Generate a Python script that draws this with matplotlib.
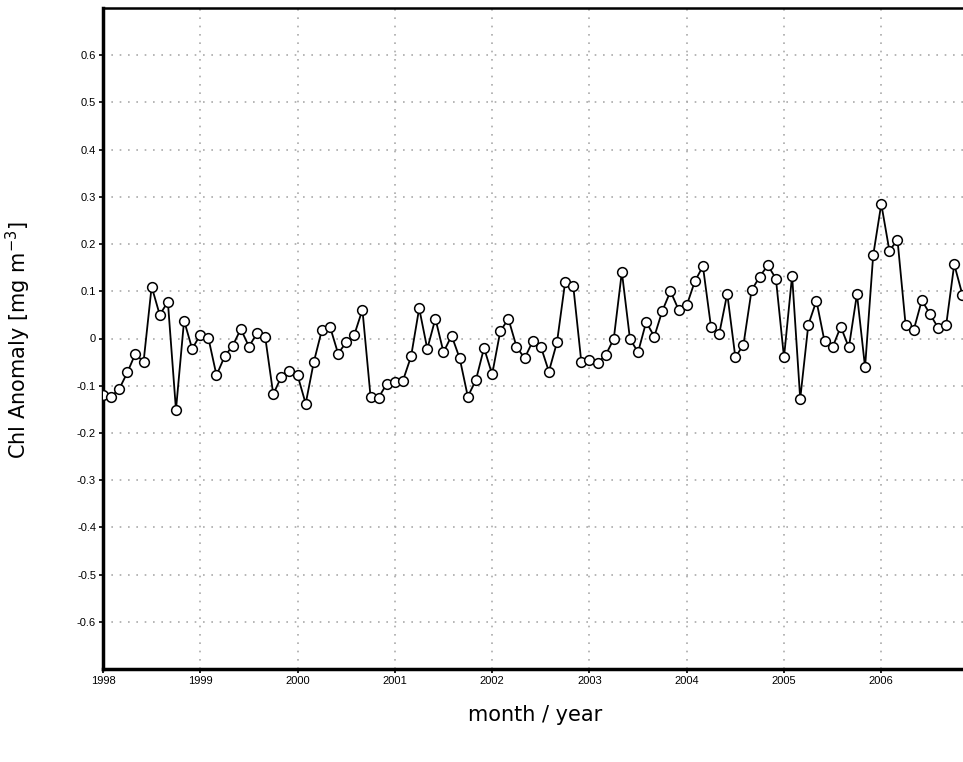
import numpy as np
import matplotlib
matplotlib.use("Agg")
import matplotlib.pyplot as plt

# monthly chlorophyll anomaly, Jan 1998 .. Dec 2006 (mg m-3)
years = [1998, 1999, 2000, 2001, 2002, 2003, 2004, 2005, 2006]
chl_1998 = [-0.120, -0.123, -0.107, -0.072, -0.032, -0.050, 0.110, 0.050, 0.078, -0.151, 0.038, -0.022]
chl_1999 = [0.008, 0.001, -0.078, -0.038, -0.015, 0.020, -0.017, 0.011, 0.004, -0.118, -0.081, -0.068]
chl_2000 = [-0.078, -0.138, -0.050, 0.018, 0.025, -0.032, -0.008, 0.008, 0.061, -0.123, -0.125, -0.096]
chl_2001 = [-0.093, -0.089, -0.038, 0.064, -0.022, 0.042, -0.029, 0.006, -0.042, -0.123, -0.088, -0.020]
chl_2002 = [-0.076, 0.015, 0.042, -0.017, -0.042, -0.006, -0.017, -0.070, -0.008, 0.119, 0.112, -0.050]
chl_2003 = [-0.045, -0.052, -0.035, -0.001, 0.141, -0.001, -0.029, 0.035, 0.004, 0.059, 0.100, 0.061]
chl_2004 = [0.070, 0.121, 0.153, 0.024, 0.009, 0.095, -0.040, -0.013, 0.102, 0.131, 0.155, 0.127]
chl_2005 = [-0.040, 0.133, -0.128, 0.029, 0.080, -0.006, -0.018, 0.025, -0.019, 0.094, -0.061, 0.176]
chl_2006 = [0.285, 0.186, 0.209, 0.029, 0.018, 0.081, 0.052, 0.023, 0.028, 0.157, 0.093, 0.030]

y_ticks = [0.6, 0.5, 0.4, 0.3, 0.2, 0.1, 0, -0.1, -0.2, -0.3, -0.4, -0.5, -0.6]
y_labels = ["0.6", "0.5", "0.4", "0.3", "0.2", "0.1", "0", "-0.1", "-0.2", "-0.3", "-0.4", "-0.5", "-0.6"]

series = [chl_1998, chl_1999, chl_2000, chl_2001, chl_2002, chl_2003, chl_2004, chl_2005, chl_2006]
t = []
v = []
for yr, vals in zip(years, series):
    for m, val in enumerate(vals):
        t.append(yr + m / 12.0)
        v.append(val)

fig = plt.figure(figsize=(9.63, 7.62), dpi=100)
ax = fig.add_axes([103 / 963, 93 / 762, 860 / 963, 661 / 762])

ax.plot(t, v, color="black", lw=1.3, marker="o", ms=7, mfc="white", mec="black", mew=1.1,
        clip_on=True, zorder=3)

ax.set_xlim(1998, 2006.84)
ax.set_ylim(-0.7, 0.7)
ax.set_xticks(years)
ax.set_xticklabels([str(y) for y in years], fontsize=8, family="Liberation Sans")
ax.set_yticks(y_ticks)
ax.set_yticklabels(y_labels, fontsize=8, family="Liberation Sans")
ax.tick_params(direction="out", length=3, width=1.2, pad=2)

ax.grid(True, color="#aaaaaa", linestyle=(0, (1, 4)), lw=1.2)
ax.set_axisbelow(True)

ax.spines["right"].set_visible(False)
ax.spines["left"].set_linewidth(2.5)
ax.spines["bottom"].set_linewidth(2.5)
ax.spines["top"].set_linewidth(1.8)

fig.text(18 / 963, 1 - 340 / 762, "Chl Anomaly [mg m$^{-3}$]", rotation=90,
         ha="center", va="center", fontsize=15)
fig.text(535 / 963, 1 - 715 / 762, "month / year", ha="center", va="center", fontsize=15)

fig.savefig("out.png", dpi=100)
